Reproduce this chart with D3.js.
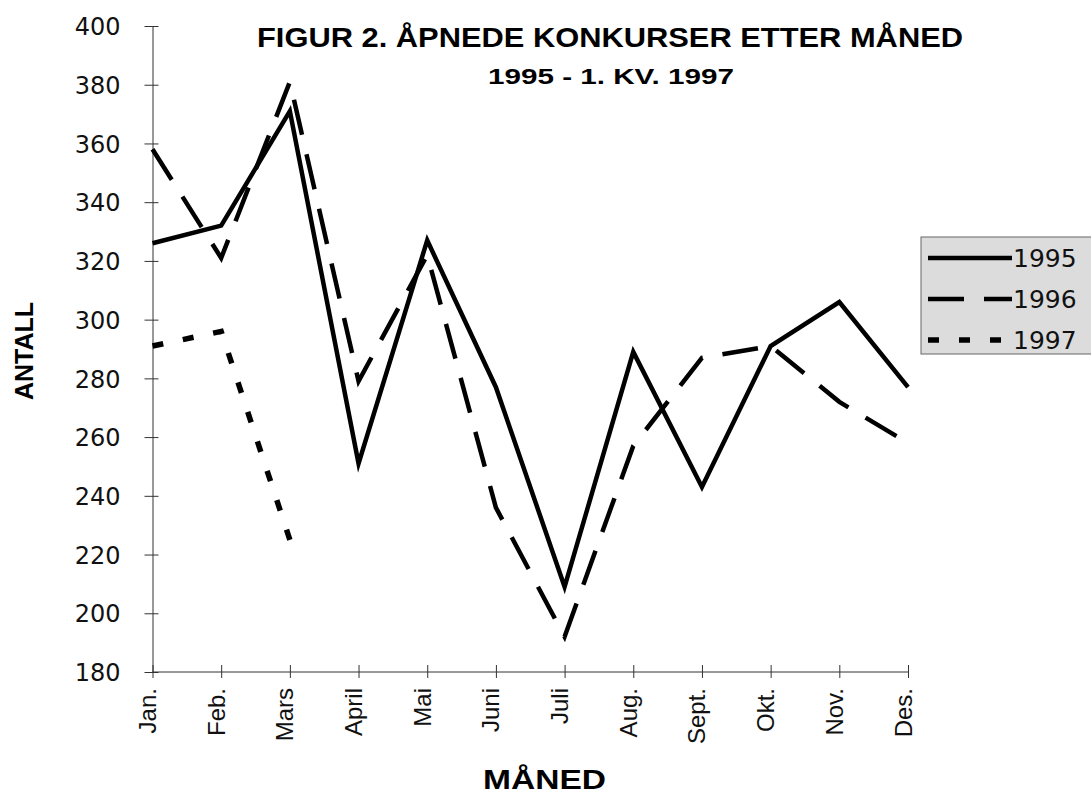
<!DOCTYPE html>
<html>
<head>
<meta charset="utf-8">
<script src="https://cdn.jsdelivr.net/npm/d3@7"></script>
<style>
  body { margin: 0; background: #fff; }
  svg { display: block; }
  .axis path, .axis line { stroke: #333; stroke-width: 1; }
</style>
</head>
<body>
<svg id="chart" width="1091" height="797"></svg>
<script>
// values
var months = ["Jan.", "Feb.", "Mars", "April", "Mai", "Juni", "Juli", "Aug.", "Sept.", "Okt.", "Nov.", "Des."];
var v1995 = [326, 332, 371, 251, 327, 277, 209, 289, 243, 291, 306, 277];
var v1996 = [358, 321, 381, 279, 322, 236, 192, 257, 287, 291, 272, 258];
var v1997 = [291, 296, 225];
var yTicks = [180, 200, 220, 240, 260, 280, 300, 320, 340, 360, 380, 400];

var series = [
    { name: "1995", values: v1995, dash: null, width: 4.5 },
    { name: "1996", values: v1996, dash: "36,20", width: 4.5 },
    { name: "1997", values: v1997, dash: "11,20", width: 5.5 }
];

function drawChart() {
    var svg = d3.select("#chart");
    var plotLeft = 152.5, plotRight = 908, plotTop = 26, plotBottom = 672;

    var x = d3.scalePoint().domain(months).range([plotLeft, plotRight]);
    var y = d3.scaleLinear().domain([180, 400]).range([plotBottom, plotTop]);

    // y axis, ticks cross the axis line
    var yAxis = svg.append("g")
        .attr("class", "axis")
        .attr("transform", "translate(" + plotLeft + ",0)")
        .call(d3.axisLeft(y).tickValues(yTicks).tickSizeOuter(0).tickSizeInner(8).tickPadding(24));
    yAxis.selectAll(".tick line").attr("x2", 6).attr("x1", -8);
    yAxis.selectAll("text")
        .style("font-family", "'DejaVu Sans', sans-serif")
        .style("font-size", "24px")
        .attr("fill", "#111")
        .attr("dy", "0.36em");

    // x axis with rotated month labels
    var xAxis = svg.append("g")
        .attr("class", "axis")
        .attr("transform", "translate(0," + plotBottom + ")")
        .call(d3.axisBottom(x).tickSizeOuter(0).tickSizeInner(6));
    xAxis.select(".domain").attr("d", "M" + plotLeft + ",0H" + plotRight);
    xAxis.selectAll(".tick line").attr("y1", -7).attr("y2", 6);
    xAxis.selectAll("text")
        .style("font-family", "'Liberation Sans', Arial, sans-serif")
        .style("font-size", "24px")
        .attr("fill", "#111")
        .attr("text-anchor", "end")
        .attr("transform", "rotate(-90)")
        .attr("x", -16)
        .attr("y", 3)
        .attr("dy", 0);

    // lines
    var line = d3.line()
        .x(function(d, i) { return x(months[i]); })
        .y(function(d) { return y(d); });

    svg.append("g").selectAll("path")
        .data(series)
        .enter().append("path")
        .attr("d", function(d) { return line(d.values); })
        .attr("fill", "none")
        .attr("stroke", "#000")
        .attr("stroke-width", function(d) { return d.width; })
        .attr("stroke-dasharray", function(d) { return d.dash; })
        .attr("stroke-linejoin", "miter")
        .attr("stroke-miterlimit", 10);

    // legend
    var legend = svg.append("g").attr("transform", "translate(921,237)");
    legend.append("rect")
        .attr("width", 200).attr("height", 117)
        .attr("fill", "#dcdcdc")
        .attr("stroke", "#666")
        .attr("stroke-width", 1);

    var item = legend.selectAll("g.item")
        .data(series)
        .enter().append("g")
        .attr("class", "item")
        .attr("transform", function(d, i) { return "translate(0," + (21 + i * 41) + ")"; });
    item.append("line")
        .attr("x1", 7).attr("x2", 91)
        .attr("stroke", "#000")
        .attr("stroke-width", function(d) { return d.width; })
        .attr("stroke-dasharray", function(d) { return d.dash; });
    item.append("text")
        .attr("x", 92)
        .attr("dy", "0.36em")
        .style("font-family", "'DejaVu Sans', sans-serif")
        .style("font-size", "25px")
        .attr("fill", "#111")
        .text(function(d) { return d.name; });

    // titles
    svg.append("text")
        .attr("x", 257).attr("y", 47)
        .attr("textLength", 706).attr("lengthAdjust", "spacingAndGlyphs")
        .style("font-family", "'Liberation Sans', Arial, sans-serif")
        .style("font-weight", "bold").style("font-size", "28px")
        .text("FIGUR 2. ÅPNEDE KONKURSER ETTER MÅNED");

    svg.append("text")
        .attr("x", 488).attr("y", 84)
        .attr("textLength", 246).attr("lengthAdjust", "spacingAndGlyphs")
        .style("font-family", "'Liberation Sans', Arial, sans-serif")
        .style("font-weight", "bold").style("font-size", "22px")
        .text("1995 - 1. KV. 1997");

    svg.append("text")
        .attr("transform", "translate(33,351) rotate(-90)")
        .attr("text-anchor", "middle")
        .style("font-family", "'Liberation Sans', Arial, sans-serif")
        .style("font-weight", "bold").style("font-size", "25px")
        .text("ANTALL");

    svg.append("text")
        .attr("x", 483).attr("y", 789)
        .attr("textLength", 123).attr("lengthAdjust", "spacingAndGlyphs")
        .style("font-family", "'Liberation Sans', Arial, sans-serif")
        .style("font-weight", "bold").style("font-size", "27px")
        .text("MÅNED");
}

drawChart();
</script>
</body>
</html>
